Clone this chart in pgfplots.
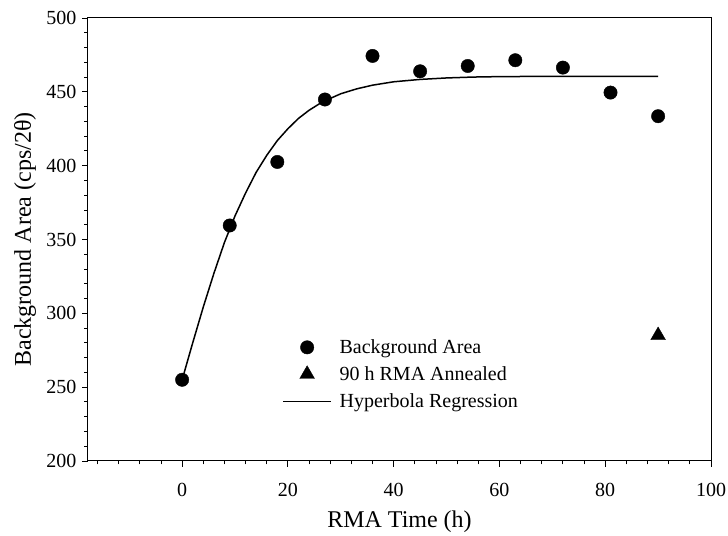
\documentclass[border=0pt]{standalone}
\usepackage{fontspec}
\setmainfont{Liberation Serif}
\usepackage{pgfplots}
\pgfplotsset{compat=1.18}
\begin{document}
\begin{tikzpicture}
\begin{axis}[
  name=ax, scale only axis, width=623pt, height=443pt,
  xmin=-17.8, xmax=100, ymin=200, ymax=500,
  xtick={0,20,...,100}, ytick={200,250,...,500},
  minor xtick={-16,-12,...,96}, minor ytick={210,220,...,490},
  tick align=outside, xtick pos=left, ytick pos=left,
  major tick length=6pt, minor tick length=3.5pt,
  every tick/.style={black, line width=0.9pt},
  axis line style={line width=1pt},
  tick label style={font=\fontsize{20}{24}\selectfont},
  /pgf/number format/assume math mode=true,
  xticklabel style={yshift=-13pt},
  yticklabel style={xshift=-2pt},
  xlabel={RMA Time (h)}, ylabel={Background Area (cps/2θ)},
  every axis x label/.style={at={(axis description cs:0.5,0)}, anchor=base, yshift=-67pt, font=\fontsize{24}{28}\selectfont},
  every axis y label/.style={at={(axis description cs:-0.101,0.5)}, rotate=90, anchor=center, font=\fontsize{24}{28}\selectfont},
  legend style={draw=none, fill=none, at={(axis cs:18.4,285)}, anchor=north west,
    font=\fontsize{20}{24}\selectfont, row sep=7.5pt,
    nodes={inner xsep=8pt}},
  legend cell align=left,
]
\addplot[only marks, mark=*, mark size=6.7pt, black,
  legend image code/.code={\draw[mark repeat=2,mark phase=2] plot coordinates {(0pt,0pt) (24pt,0pt) (48pt,0pt)};}]
coordinates {(0,255) (9,359.5) (18,402.5) (27,444.8) (36,474.3) (45,463.9) (54,467.5) (63,471.4) (72,466.4) (81,449.5) (90,433.5)};
\addlegendentry{Background Area}
\addplot[only marks, mark=triangle*, mark size=8.5pt, black,
  legend image code/.code={\draw[mark repeat=2,mark phase=2] plot coordinates {(0pt,0pt) (24pt,0pt) (48pt,0pt)};}]
coordinates {(90,285)};
\addlegendentry{90 h RMA Annealed}
\addplot[black, line width=1.5pt, no marks,
  legend image code/.code={\draw[line width=1pt] (0pt,0pt) -- (48pt,0pt);}]
coordinates {(0,255) (2,280) (4,304.3) (6,327) (8,348) (10,366) (12,381.5) (14,395.5) (16,407) (18,417) (20,425) (22,432) (24,437.5) (26,442) (28,445.5) (30,448.7) (33,452) (36,454.5) (40,456.8) (45,458.4) (50,459.4) (55,460) (60,460.3) (70,460.5) (80,460.5) (90,460.5)};
\addlegendentry{Hyperbola Regression}
\end{axis}
\pgfresetboundingbox
\path[use as bounding box] ([shift={(-88pt,-75pt)}]ax.south west) rectangle ([shift={(17pt,18pt)}]ax.north east);
\end{tikzpicture}
\end{document}
